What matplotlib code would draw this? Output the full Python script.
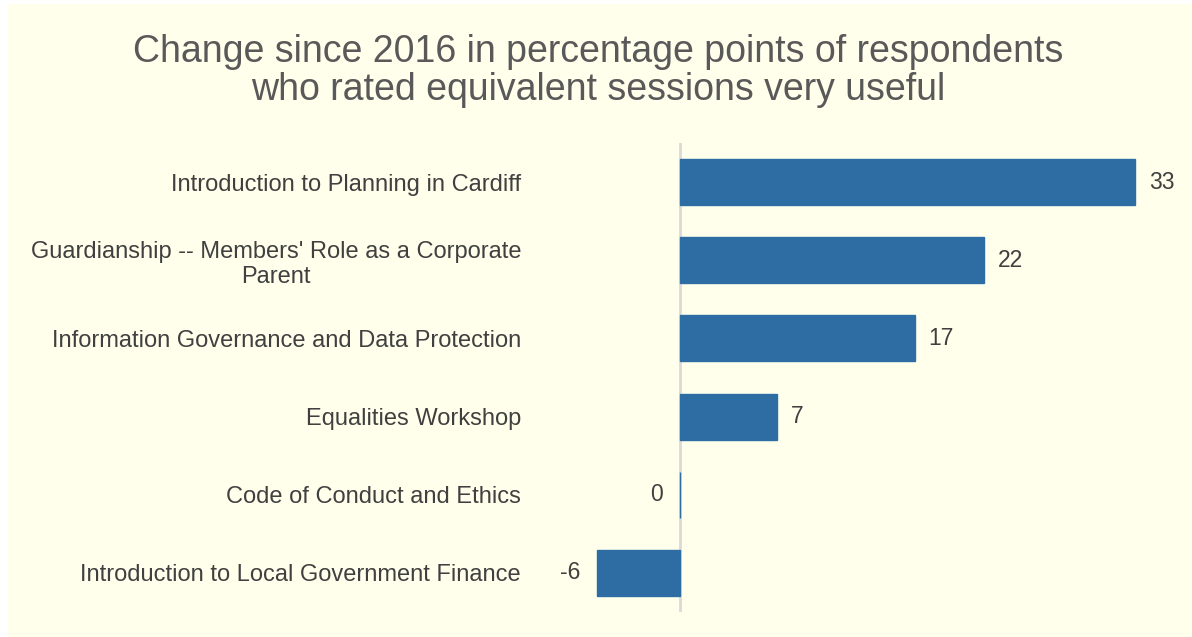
import matplotlib.pyplot as plt

plt.rcParams['font.family'] = ['Liberation Sans', 'DejaVu Sans']

sessions = [
    "Introduction to Planning in Cardiff",
    "Guardianship -- Members' Role as a Corporate\nParent",
    "Information Governance and Data Protection",
    "Equalities Workshop",
    "Code of Conduct and Ethics",
    "Introduction to Local Government Finance",
]
change_pts = [33, 22, 17, 7, 0, -6]

bg = "#FFFFEC"
bar_color = "#2E6DA4"
text_color = "#404040"

fig = plt.figure(figsize=(11.92, 6.37), dpi=100)
fig.patch.set_facecolor("white")

# yellow panel behind everything, leaving a thin white strip on the left/top
panel = plt.Rectangle((8 / 1192, 0), 1 - 8 / 1192, 1 - 4 / 637,
                      transform=fig.transFigure, facecolor=bg, edgecolor="none", zorder=-10)
fig.patches.append(panel)

ax = fig.add_axes([560 / 1192, 1 - 612 / 637, 620 / 1192, 469 / 637])
ax.set_facecolor("none")

px_per_unit = 13.8
ax.set_xlim(-(680 - 560) / px_per_unit, (1180 - 680) / px_per_unit)
ax.set_ylim(len(sessions) - 0.5, -0.5)

y = list(range(len(sessions)))
ax.axvline(0, color="#D9D9D9", linewidth=2, zorder=1)
ax.barh(y, change_pts, height=0.59, color=bar_color, edgecolor=bar_color,
        linewidth=1, zorder=2)

for yi, v in zip(y, change_pts):
    if v > 0:
        ax.annotate(str(v), (v, yi), xytext=(10, 0), textcoords="offset points",
                    ha="left", va="center", fontsize=16.5, color=text_color)
    else:
        ax.annotate(str(v), (v, yi), xytext=(-12, 0), textcoords="offset points",
                    ha="right", va="center", fontsize=16.5, color=text_color)

ax.set_yticks(y)
ax.set_yticklabels(sessions, fontsize=17, color=text_color, multialignment="center")
ax.tick_params(axis="y", length=0, pad=28)
ax.set_xticks([])
for s in ax.spines.values():
    s.set_visible(False)

fig.text(0.502, 1 - 71 / 637, "Change since 2016 in percentage points of respondents\n"
         "who rated equivalent sessions very useful",
         ha="center", va="center", fontsize=27, color="#595959", linespacing=1.1)

fig.savefig("out.png", dpi=100, facecolor=fig.get_facecolor())
